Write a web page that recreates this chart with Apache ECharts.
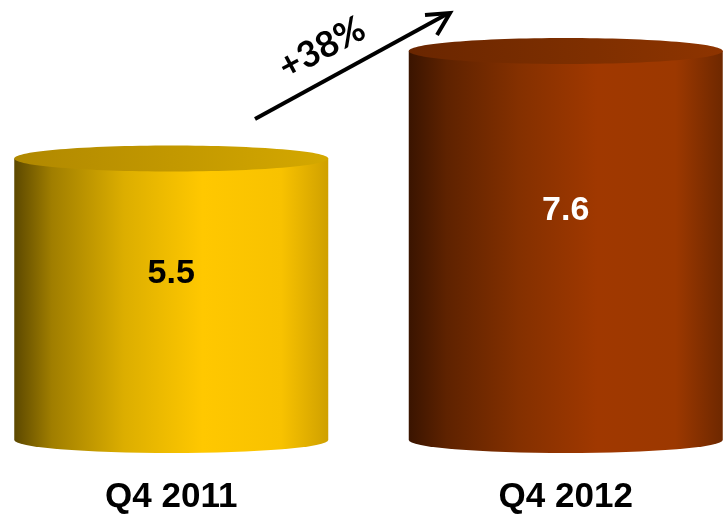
<!DOCTYPE html>
<html>
<head>
<meta charset="utf-8">
<script src="https://cdn.jsdelivr.net/npm/echarts@6/dist/echarts.min.js"></script>
<style>
  html, body { margin: 0; padding: 0; background: #ffffff; }
  #chart { width: 726px; height: 519px; }
</style>
</head>
<body>
<div id="chart"></div>
<script>
// Quarterly figures shown as cylinders
const categories = ['Q4 2011', 'Q4 2012'];
const values = [5.5, 7.6];

// Side gradients (left -> right) and top-face gradients for each cylinder
const sideStops = [
  [[0, '#5c4800'], [0.12, '#a07e00'], [0.35, '#dcae00'], [0.6, '#ffc800'], [0.85, '#f8c200'], [1, '#cfa000']],
  [[0, '#3a1400'], [0.12, '#5e2200'], [0.35, '#843000'], [0.6, '#a03800'], [0.85, '#9c3800'], [1, '#6e2800']]
];
const topStops = [
  [[0, '#b08800'], [0.5, '#c29800'], [1, '#d4a800']],
  [[0, '#6a2600'], [0.5, '#7c2e00'], [1, '#8e3400']]
];
const labelColors = ['#000000', '#ffffff'];

const growth = Math.round((values[1] / values[0] - 1) * 100);

function grad(stops) {
  return {
    type: 'linear', x: 0, y: 0, x2: 1, y2: 0,
    colorStops: stops.map(s => ({ offset: s[0], color: s[1] }))
  };
}

const chart = echarts.init(document.getElementById('chart'), null, { renderer: 'canvas' });

chart.setOption({
  animation: false,
  backgroundColor: '#ffffff',
  grid: { left: -26, right: -37, top: 5, bottom: 79, outerBoundsMode: 'none', containLabel: false },
  xAxis: {
    type: 'category',
    data: categories,
    axisLine: { show: false },
    axisTick: { show: false },
    splitLine: { show: false },
    axisLabel: {
      margin: 40,
      fontFamily: 'Liberation Sans, Arial, sans-serif',
      fontWeight: 'bold',
      fontSize: 35,
      color: '#000000'
    }
  },
  yAxis: { type: 'value', min: 0, max: 8.5, show: false },
  series: [{
    type: 'custom',
    data: values.map((v, i) => [i, v]),
    renderItem: function (params, api) {
      const i = api.value(0);
      const v = api.value(1);
      const base = api.coord([i, 0]);
      const top = api.coord([i, v]);
      const cx = base[0];
      const yb = base[1];
      const yt = top[1];
      const rx = 157;
      const ry = 13;
      const sidePath =
        'M' + (cx - rx) + ' ' + yt +
        ' L' + (cx - rx) + ' ' + yb +
        ' A' + rx + ' ' + ry + ' 0 0 0 ' + (cx + rx) + ' ' + yb +
        ' L' + (cx + rx) + ' ' + yt + ' Z';
      return {
        type: 'group',
        children: [
          {
            type: 'path',
            shape: { pathData: sidePath },
            style: { fill: grad(sideStops[i]) }
          },
          {
            type: 'ellipse',
            shape: { cx: cx, cy: yt, rx: rx, ry: ry },
            style: { fill: grad(topStops[i]) }
          },
          {
            type: 'text',
            style: {
              x: cx,
              y: yt + 0.41 * (yb - yt),
              text: v.toFixed(1),
              align: 'center',
              verticalAlign: 'middle',
              fontFamily: 'Liberation Sans, Arial, sans-serif',
              fontWeight: 'bold',
              fontSize: 34,
              fill: labelColors[i]
            }
          }
        ]
      };
    }
  }],
  graphic: [
    {
      type: 'line',
      shape: { x1: 255, y1: 119, x2: 447, y2: 14 },
      style: { stroke: '#000000', lineWidth: 4 }
    },
    {
      type: 'polyline',
      shape: { points: [[425, 15], [450, 13], [437, 35]] },
      style: { stroke: '#000000', lineWidth: 4, fill: null, lineJoin: 'miter' }
    },
    {
      type: 'text',
      x: 322,
      y: 48,
      rotation: 0.49,
      style: {
        text: '+' + growth + '%',
        align: 'center',
        verticalAlign: 'middle',
        fontFamily: 'Lato, Open Sans, sans-serif',
        fontWeight: 'bold',
        fontSize: 36,
        fill: '#000000'
      }
    }
  ]
});
</script>
</body>
</html>
